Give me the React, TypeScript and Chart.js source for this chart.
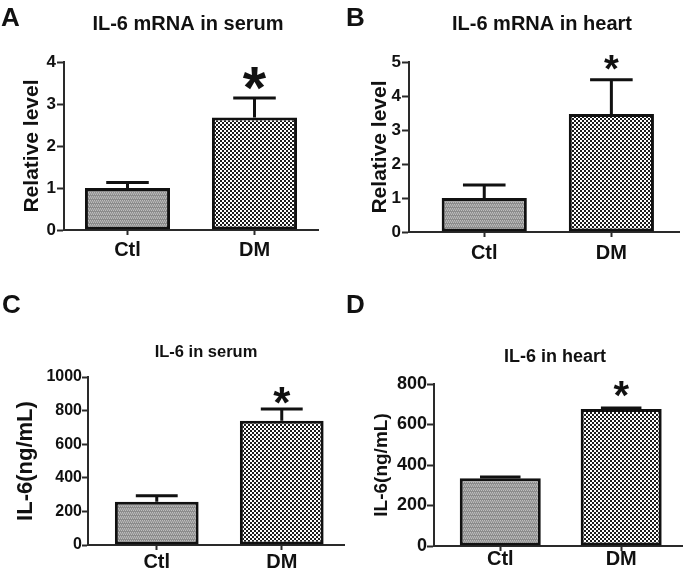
import React, { useEffect, useRef } from 'react';
import { Chart, registerables } from 'chart.js';

Chart.register(...registerables);

// ---------- data ----------
const categories = ['Ctl', 'DM'];
const significant = [false, true];

const mrnaSerumMean = [1.0, 2.68];
const mrnaSerumSem = [0.13, 0.46];

const mrnaHeartMean = [1.0, 3.47];
const mrnaHeartSem = [0.38, 1.01];

const il6SerumMean = [257, 739];
const il6SerumSem = [36, 70];

const il6HeartMean = [334, 677];
const il6HeartSem = [7, 5];

const ticksA = [0, 1, 2, 3, 4];
const ticksB = [0, 1, 2, 3, 4, 5];
const ticksC = [0, 200, 400, 600, 800, 1000];
const ticksD = [0, 200, 400, 600, 800];

// ---------- styles ----------
const FONT = '"Liberation Sans", Arial, Helvetica, sans-serif';
const INK = '#111111';
const AXIS = '#2a2a2a';
const LH = 1.2;

type Panel = {
  letter: string;
  letterPos: { left: number; top: number };
  title: string;
  yTitle: string;
  values: number[];
  errors: number[];
  yMax: number;
  yTicks: number[];
  box: { left: number; top: number; width: number; height: number };
  area: { left: number; top: number; right: number; bottom: number };
  xMin: number;
  xMax: number;
  titleX: number;
  titleY: number;
  titleSize: number;
  yTitleX: number;
  yTitleSize: number;
  tickSize: number;
  yTickLen: number;
  yTickPad: number;
  catSize: number;
  catPad: number;
  starSize: number;
  starGap: number;
};

const panels: Panel[] = [
  {
    letter: 'A', letterPos: { left: 1, top: 4 },
    title: 'IL-6 mRNA in serum', yTitle: 'Relative level',
    values: mrnaSerumMean, errors: mrnaSerumSem, yMax: 4, yTicks: ticksA,
    box: { left: 0, top: 0, width: 342, height: 280 },
    area: { left: 64, top: 62, right: 318, bottom: 230 },
    xMin: -0.5, xMax: 1.5,
    titleX: 188, titleY: 24, titleSize: 20, yTitleX: 32, yTitleSize: 21,
    tickSize: 17, yTickLen: 7, yTickPad: 1, catSize: 20, catPad: 3,
    starSize: 60, starGap: 20,
  },
  {
    letter: 'B', letterPos: { left: 346, top: 4 },
    title: 'IL-6 mRNA in heart', yTitle: 'Relative level',
    values: mrnaHeartMean, errors: mrnaHeartSem, yMax: 5, yTicks: ticksB,
    box: { left: 342, top: 0, width: 343, height: 280 },
    area: { left: 67, top: 62, right: 337, bottom: 232 },
    xMin: -0.592, xMax: 1.532,
    titleX: 200, titleY: 24, titleSize: 20, yTitleX: 38, yTitleSize: 21,
    tickSize: 17, yTickLen: 7, yTickPad: 1, catSize: 20, catPad: 4,
    starSize: 38, starGap: 17,
  },
  {
    letter: 'C', letterPos: { left: 2, top: 291 },
    title: 'IL-6 in serum', yTitle: 'IL-6(ng/mL)',
    values: il6SerumMean, errors: il6SerumSem, yMax: 1000, yTicks: ticksC,
    box: { left: 0, top: 280, width: 350, height: 293 },
    area: { left: 88, top: 97, right: 344, bottom: 265 },
    xMin: -0.55, xMax: 1.498,
    titleX: 206, titleY: 72, titleSize: 16.5, yTitleX: 26, yTitleSize: 22,
    tickSize: 16, yTickLen: 6, yTickPad: 0, catSize: 20, catPad: 0,
    starSize: 44, starGap: 14,
  },
  {
    letter: 'D', letterPos: { left: 346, top: 291 },
    title: 'IL-6 in heart', yTitle: 'IL-6(ng/mL)',
    values: il6HeartMean, errors: il6HeartSem, yMax: 800, yTicks: ticksD,
    box: { left: 342, top: 280, width: 343, height: 293 },
    area: { left: 92, top: 104, right: 340, bottom: 266 },
    xMin: -0.548, xMax: 1.503,
    titleX: 213, titleY: 77.5, titleSize: 18, yTitleX: 40, yTitleSize: 19,
    tickSize: 18, yTickLen: 7, yTickPad: 0, catSize: 20, catPad: -4,
    starSize: 40, starGap: 19,
  },
];

function makePattern(kind: 'gray' | 'check'): CanvasPattern | string {
  const c = document.createElement('canvas');
  c.width = 4;
  c.height = 4;
  const g = c.getContext('2d');
  if (!g) return '#999';
  if (kind === 'gray') {
    g.fillStyle = '#8c8c8c';
    g.fillRect(0, 0, 4, 4);
    g.fillStyle = '#bdbdbd';
    g.fillRect(0, 0, 1, 1);
    g.fillRect(2, 0, 1, 1);
    g.fillRect(1, 2, 1, 1);
    g.fillRect(3, 2, 1, 1);
    g.fillStyle = '#a3a3a3';
    g.fillRect(0, 1, 4, 1);
  } else {
    g.fillStyle = '#ffffff';
    g.fillRect(0, 0, 4, 4);
    g.fillStyle = '#1c1c1c';
    g.fillRect(0, 0, 2, 2);
    g.fillRect(2, 2, 2, 2);
  }
  return g.createPattern(c, 'repeat') || '#999';
}

const errorBarPlugin = {
  id: 'errorBars',
  afterDatasetsDraw(chart: any, _args: any, opts: any) {
    const { ctx } = chart;
    const y = chart.scales.y;
    const meta = chart.getDatasetMeta(0);
    const ds = chart.data.datasets[0];
    ctx.save();
    meta.data.forEach((bar: any, i: number) => {
      const v = ds.data[i].y;
      const top = y.getPixelForValue(v + opts.errors[i]);
      const half = (bar.width * 0.5) / 2;
      ctx.strokeStyle = INK;
      ctx.lineWidth = 3;
      ctx.lineCap = 'butt';
      ctx.beginPath();
      ctx.moveTo(bar.x, bar.y);
      ctx.lineTo(bar.x, top);
      ctx.moveTo(bar.x - half, top);
      ctx.lineTo(bar.x + half, top);
      ctx.stroke();
      if (opts.stars[i]) {
        ctx.font = `bold ${opts.starSize}px ${FONT}`;
        ctx.fillStyle = INK;
        ctx.textAlign = 'center';
        ctx.textBaseline = 'alphabetic';
        const m = ctx.measureText('*');
        const a = m.actualBoundingBoxAscent;
        const d = m.actualBoundingBoxDescent;
        const cy = top - opts.starGap;
        ctx.fillText('*', bar.x, cy + (a - d) / 2);
      }
    });
    ctx.restore();
  },
};

const panelTitlePlugin = {
  id: 'panelTitle',
  afterDraw(chart: any, _args: any, opts: any) {
    const { ctx } = chart;
    ctx.save();
    ctx.font = `bold ${opts.size}px ${FONT}`;
    ctx.fillStyle = INK;
    ctx.textAlign = 'center';
    ctx.textBaseline = 'middle';
    ctx.fillText(opts.text, opts.x, opts.y);
    ctx.restore();
  },
};

function PanelChart({ cfg }: { cfg: Panel }) {
  const ref = useRef<HTMLCanvasElement>(null);
  useEffect(() => {
    const canvas = ref.current;
    if (!canvas) return;
    const yTitleLH = cfg.yTitleSize * LH;
    const chart = new Chart(canvas, {
      type: 'bar',
      data: {
        datasets: [
          {
            data: cfg.values.map((v, i) => ({ x: i, y: v })),
            backgroundColor: [makePattern('gray'), makePattern('check')] as any,
            borderColor: INK,
            borderWidth: 3,
            borderSkipped: false,
            barPercentage: 0.67,
            categoryPercentage: 1,
          } as any,
        ],
      },
      plugins: [errorBarPlugin as any, panelTitlePlugin as any],
      options: {
        responsive: false,
        animation: false,
        devicePixelRatio: 1,
        layout: {
          padding: { left: 0, top: cfg.area.top, right: cfg.box.width - cfg.area.right, bottom: 0 },
        },
        plugins: {
          legend: { display: false },
          tooltip: { enabled: false },
          title: { display: false },
          panelTitle: { text: cfg.title, x: cfg.titleX, y: cfg.titleY, size: cfg.titleSize },
          errorBars: {
            errors: cfg.errors,
            stars: significant,
            starSize: cfg.starSize,
            starGap: cfg.starGap,
          },
        } as any,
        scales: {
          x: {
            type: 'linear',
            min: cfg.xMin,
            max: cfg.xMax,
            offset: false,
            bounds: 'data',
            afterBuildTicks: (s: any) => {
              s.ticks = categories.map((_, i) => ({ value: i }));
            },
            afterFit: (s: any) => {
              s.height = cfg.box.height - cfg.area.bottom;
            },
            ticks: {
              callback: (v: any) => categories[v as number] ?? '',
              color: INK,
              font: { family: FONT, size: cfg.catSize, weight: 'bold', lineHeight: LH },
              padding: cfg.catPad,
              maxRotation: 0,
              autoSkip: false,
            },
            grid: {
              display: true,
              drawOnChartArea: false,
              drawTicks: true,
              tickLength: 5,
              tickColor: AXIS,
              tickWidth: 2,
              offset: false,
            },
            border: { display: true, color: AXIS, width: 2 },
          } as any,
          y: {
            type: 'linear',
            min: 0,
            max: cfg.yMax,
            bounds: 'data',
            afterBuildTicks: (s: any) => {
              s.ticks = cfg.yTicks.map((v) => ({ value: v }));
            },
            afterFit: (s: any) => {
              s.width = cfg.area.left;
            },
            ticks: {
              callback: (v: any) => String(v),
              color: INK,
              font: { family: FONT, size: cfg.tickSize, weight: 'bold', lineHeight: LH },
              padding: cfg.yTickPad,
            },
            grid: {
              display: true,
              drawOnChartArea: false,
              drawTicks: true,
              tickLength: cfg.yTickLen,
              tickColor: AXIS,
              tickWidth: 2,
            },
            border: { display: true, color: AXIS, width: 2 },
            title: {
              display: true,
              text: cfg.yTitle,
              color: INK,
              font: { family: FONT, size: cfg.yTitleSize, weight: 'bold', lineHeight: LH },
              padding: { top: cfg.yTitleX - yTitleLH / 2, bottom: 0 },
            },
          } as any,
        },
      },
    });
    return () => chart.destroy();
  }, [cfg]);
  return (
    <canvas
      ref={ref}
      width={cfg.box.width}
      height={cfg.box.height}
      style={{
        position: 'absolute',
        left: cfg.box.left,
        top: cfg.box.top,
        width: cfg.box.width,
        height: cfg.box.height,
      }}
    />
  );
}

export default function App() {
  return (
    <div
      style={{
        position: 'absolute',
        left: 0,
        top: 0,
        width: 685,
        height: 573,
        background: '#ffffff',
        overflow: 'hidden',
      }}
    >
      {panels.map((p) => (
        <PanelChart key={p.letter} cfg={p} />
      ))}
      {panels.map((p) => (
        <div
          key={'l' + p.letter}
          style={{
            position: 'absolute',
            left: p.letterPos.left,
            top: p.letterPos.top,
            fontFamily: FONT,
            fontWeight: 'bold',
            fontSize: 26,
            lineHeight: 1,
            color: INK,
          }}
        >
          {p.letter}
        </div>
      ))}
    </div>
  );
}
